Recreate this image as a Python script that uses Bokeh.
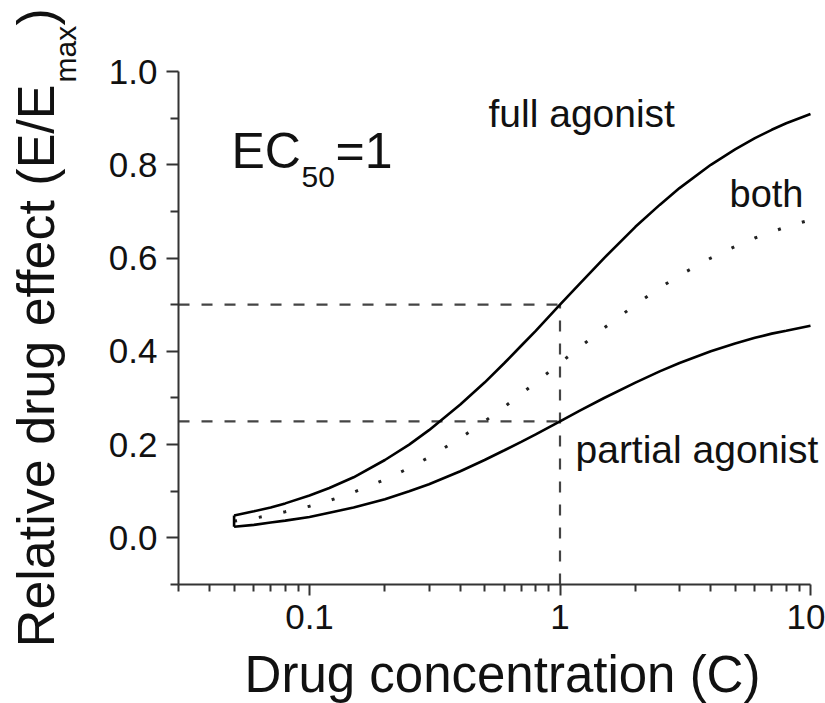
import math
from bokeh.plotting import figure
from bokeh.models import Label, FixedTicker, PrintfTickFormatter, Range1d
from bokeh.embed import file_html
from bokeh.resources import INLINE

# ---- data ----
conc = [0.05, 0.06, 0.07, 0.08, 0.1, 0.12, 0.15, 0.2, 0.25, 0.3, 0.4, 0.5, 0.6, 0.7,
        0.8, 1.0, 1.2, 1.5, 2.0, 2.5, 3.0, 4.0, 5.0, 6.0, 7.0, 8.0, 10.0]
full_agonist = [0.048, 0.057, 0.065, 0.074, 0.091, 0.107, 0.130, 0.167, 0.200, 0.231,
                0.286, 0.333, 0.375, 0.412, 0.444, 0.500, 0.545, 0.600, 0.667, 0.714,
                0.750, 0.800, 0.833, 0.857, 0.875, 0.889, 0.909]
partial_agonist = [0.024, 0.028, 0.033, 0.037, 0.045, 0.054, 0.065, 0.083, 0.100, 0.115,
                   0.143, 0.167, 0.188, 0.206, 0.222, 0.250, 0.273, 0.300, 0.333, 0.357,
                   0.375, 0.400, 0.417, 0.429, 0.438, 0.444, 0.455]
both = [0.036, 0.042, 0.049, 0.056, 0.068, 0.080, 0.098, 0.125, 0.150, 0.173,
        0.214, 0.250, 0.281, 0.309, 0.333, 0.375, 0.409, 0.450, 0.500, 0.536,
        0.563, 0.600, 0.625, 0.643, 0.656, 0.667, 0.682]
ec50 = 1.0
full_half = 0.5
partial_half = 0.25

x_ticks = [0.1, 1, 10]
x_minor = [0.03, 0.04, 0.05, 0.06, 0.07, 0.08, 0.09, 0.2, 0.3, 0.4, 0.5, 0.6, 0.7, 0.8, 0.9,
           2, 3, 4, 5, 6, 7, 8, 9]
y_ticks = [0.0, 0.2, 0.4, 0.6, 0.8, 1.0]
y_minor = [-0.1, 0.1, 0.3, 0.5, 0.7, 0.9]

AX_X = (0.03, 10.0)    # extent of the drawn x axis
AX_Y = (-0.1, 1.0)     # extent of the drawn y axis

# ---- layout: the plot frame fills the whole canvas, axes sit at fixed locations ----
W, H = 825, 703
DEC_PX = 250.5          # pixels per decade on x
X_PX_01 = 309.0         # pixel column of x = 0.1
Y_PX_TOP = 71.0         # pixel row of y = 1.0
Y_PX_UNIT = 466.4       # pixels per unit of y
K_BASE = 0.36           # label anchor correction (fraction of font size)

def dx(px):
    return 10 ** (-1 + (px - X_PX_01) / DEC_PX)

def dy(py):
    return AX_Y[1] - (py - Y_PX_TOP) / Y_PX_UNIT

FONT = "Liberation Sans"
TXT = "#111111"
AX = "#333333"

p = figure(width=W, height=H, x_axis_type="log",
           x_range=Range1d(dx(0), dx(W)), y_range=Range1d(dy(H), dy(0)),
           output_backend="svg", toolbar_location=None,
           min_border_left=0, min_border_right=0, min_border_top=0, min_border_bottom=0)
p.title.visible = False
p.outline_line_color = None
p.xgrid.visible = False
p.ygrid.visible = False
p.background_fill_color = "white"
p.border_fill_color = "white"

xa = p.xaxis[0]
ya = p.yaxis[0]
xa.fixed_location = AX_Y[0]
ya.fixed_location = AX_X[0]
xa.bounds = AX_X
ya.bounds = AX_Y
xa.ticker = FixedTicker(ticks=x_ticks, minor_ticks=x_minor)
xa.major_label_overrides = {0.1: "0.1", 1: "1", 10: "10"}
ya.ticker = FixedTicker(ticks=y_ticks, minor_ticks=y_minor)
ya.formatter = PrintfTickFormatter(format="%.1f")
for ax in (xa, ya):
    ax.axis_line_color = AX
    ax.axis_line_width = 2
    ax.major_tick_line_color = AX
    ax.minor_tick_line_color = AX
    ax.major_tick_line_width = 2
    ax.minor_tick_line_width = 2
    ax.major_tick_in = 0
    ax.minor_tick_in = 0
    ax.major_label_text_font = FONT
    ax.major_label_text_font_size = "35px"
    ax.major_label_text_color = TXT
xa.major_tick_out = 11
xa.minor_tick_out = 7
xa.major_label_standoff = 9
ya.major_tick_out = 12
ya.minor_tick_out = 8
ya.major_label_standoff = 9

# reference dashed lines
p.segment(x0=[AX_X[0], AX_X[0], ec50], y0=[full_half, partial_half, AX_Y[0]],
          x1=[ec50, ec50, ec50], y1=[full_half, partial_half, full_half],
          line_color="#444444", line_width=2.2, line_dash="11 12")

# curves
p.line(conc, full_agonist, line_color="black", line_width=2.6)
p.line(conc, partial_agonist, line_color="black", line_width=2.6)
p.line(conc, both, line_color="#222222", line_width=3, line_dash="3 22")
p.segment(x0=[conc[0]], y0=[partial_agonist[0]], x1=[conc[0]], y1=[full_agonist[0]],
          line_color="black", line_width=2.6)

def lab(text, px, py, size, align="left", rotated=False):
    shift = K_BASE * size
    if rotated:
        px -= shift
    else:
        py -= shift
    p.add_layout(Label(x=dx(px), y=dy(py), text=text, text_font=FONT,
                       text_font_size=f"{size}px", text_color=TXT, text_align=align,
                       text_baseline="alphabetic",
                       angle=math.pi / 2 if rotated else 0.0))

lab("full agonist", 488, 127, 39)
lab("both", 729, 207, 38)
lab("partial agonist", 575, 463, 39)
lab("EC", 231, 168, 50)
lab("50", 301, 187, 30)
lab("=1", 335, 168, 50)
lab("Drug concentration (C)", 502, 692, 51, align="center")
lab("Relative drug effect (E/E", 54, 84, 52, align="right", rotated=True)
lab("max", 76, 82, 30, rotated=True)
lab(")", 54, 25, 52, rotated=True)

open("out.html", "w").write(file_html(p, INLINE))
